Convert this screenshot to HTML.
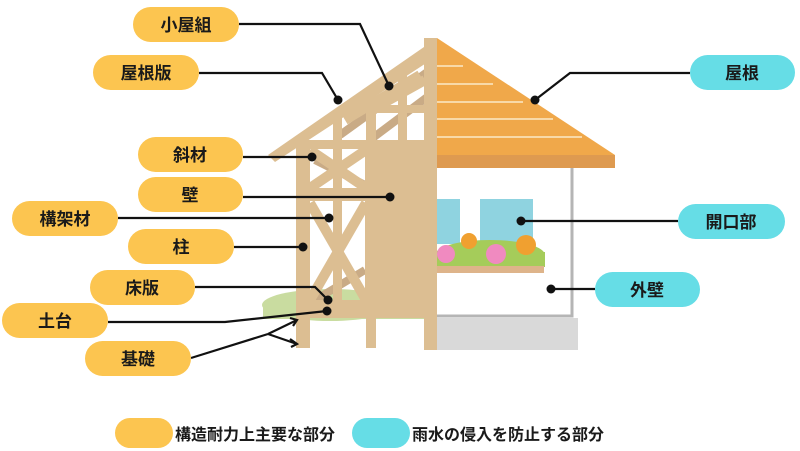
<!DOCTYPE html>
<html><head><meta charset="utf-8"><style>
html,body{margin:0;padding:0;background:#fff;}
svg{display:block;}
text{font-family:"Liberation Sans","Noto Sans CJK JP",sans-serif;font-weight:bold;fill:#1a1a1a;}
</style></head><body>
<svg width="800" height="451" viewBox="0 0 800 451" xmlns="http://www.w3.org/2000/svg">
<ellipse cx="330" cy="305" rx="68" ry="16" fill="#c9dca0"/>
<rect x="263" y="305" width="174" height="14" fill="#c9dca0"/>
<rect x="437" y="318" width="141" height="32" fill="#d9d9d9"/>
<path d="M437 316 H572 V168" fill="none" stroke="#b5b5b5" stroke-width="3"/>
<rect x="437" y="199" width="23" height="45" fill="#8fd3e0"/>
<rect x="480" y="199" width="53" height="45" fill="#8fd3e0"/>
<ellipse cx="490" cy="255" rx="55" ry="15" fill="#a5cc5a"/>
<rect x="437" y="252" width="108" height="15" fill="#a5cc5a"/>
<circle cx="446" cy="254" r="9" fill="#f08ac0"/>
<circle cx="496" cy="254" r="10" fill="#f08ac0"/>
<circle cx="469" cy="241" r="8" fill="#f0a030"/>
<circle cx="526" cy="245" r="10" fill="#f0a030"/>
<rect x="437" y="266" width="107" height="7" fill="#deb48a"/>
<polygon points="437,38 615,155 437,155" fill="#f0a84a"/>
<rect x="437" y="155" width="178" height="13" fill="#de9a50"/>
<g stroke="#f8d9a8" stroke-width="2">
<line x1="437" y1="66" x2="463" y2="66"/><line x1="437" y1="84" x2="493" y2="84"/>
<line x1="437" y1="102" x2="523" y2="102"/><line x1="437" y1="119" x2="553" y2="119"/>
<line x1="437" y1="137" x2="582" y2="137"/></g>
<g stroke="#c9ab86" stroke-width="8">
<line x1="340" y1="135" x2="430" y2="70"/><line x1="370" y1="140" x2="430" y2="95"/>
<line x1="315" y1="160" x2="365" y2="185"/><line x1="315" y1="300" x2="365" y2="270"/>
</g>
<g fill="#dcbe92">
<polygon points="268,155 437,38 437,56 275,162"/>
<rect x="296" y="140" width="141" height="9"/>
<rect x="296" y="140" width="14" height="208"/>
<rect x="333" y="115" width="9" height="200"/>
<rect x="366" y="90" width="10" height="258"/>
<rect x="398" y="70" width="9" height="80"/>
<rect x="424" y="38" width="13" height="312"/>
<rect x="365" y="140" width="72" height="178"/>
<rect x="345" y="105" width="92" height="8"/>
<rect x="296" y="188" width="75" height="13"/>
<rect x="296" y="300" width="141" height="18"/>
</g>
<g stroke="#dcbe92" stroke-width="10">
<line x1="310" y1="150" x2="366" y2="188"/><line x1="366" y1="150" x2="310" y2="188"/>
<line x1="310" y1="203" x2="366" y2="300"/><line x1="366" y1="203" x2="310" y2="300"/>
<line x1="345" y1="120" x2="420" y2="75"/><line x1="380" y1="105" x2="425" y2="80"/>
</g>
<g stroke="#111" stroke-width="2.2" fill="none">
<polyline points="239,24 360,24 389,86"/>
<polyline points="199,73 322,73 338,100"/>
<polyline points="243,157 312,157"/>
<polyline points="243,197 390,197"/>
<polyline points="118,218 329,218"/>
<polyline points="234,247 303,247"/>
<polyline points="195,287 315,287 328,300"/>
<polyline points="108,322 225,322 327,311"/>
<polyline points="191,358 268,334"/>
<polyline points="268,334 297,320"/><polyline points="268,334 297,344"/>
<polyline points="290,318 297,320 293,326"/><polyline points="290,339 297,344 291,347"/>
<polyline points="690,73 570,73 535,100"/>
<polyline points="678,221 521,221"/>
<polyline points="595,289 551,289"/>
</g>
<g fill="#111">
<circle cx="389" cy="86" r="4.5"/><circle cx="338" cy="100" r="4.5"/><circle cx="312" cy="157" r="4.5"/>
<circle cx="390" cy="197" r="4.5"/><circle cx="329" cy="218" r="4.5"/><circle cx="303" cy="247" r="4.5"/>
<circle cx="328" cy="300" r="4.5"/><circle cx="327" cy="311" r="4.5"/><circle cx="535" cy="100" r="4.5"/>
<circle cx="521" cy="221" r="4.5"/><circle cx="551" cy="289" r="4.5"/>
</g>
<g fill="#fcc550">
<rect x="133" y="7" width="106" height="35" rx="17.5"/>
<rect x="93" y="55" width="106" height="35" rx="17.5"/>
<rect x="138" y="137" width="105" height="35" rx="17.5"/>
<rect x="138" y="177" width="105" height="35" rx="17.5"/>
<rect x="12" y="201" width="106" height="35" rx="17.5"/>
<rect x="128" y="229" width="106" height="35" rx="17.5"/>
<rect x="90" y="270" width="105" height="35" rx="17.5"/>
<rect x="2" y="303" width="106" height="35" rx="17.5"/>
<rect x="85" y="341" width="106" height="35" rx="17.5"/>
<rect x="115" y="418" width="58" height="30" rx="15"/>
</g>
<g fill="#66dde6">
<rect x="690" y="55" width="105" height="35" rx="17.5"/>
<rect x="678" y="204" width="107" height="35" rx="17.5"/>
<rect x="595" y="272" width="105" height="35" rx="17.5"/>
<rect x="352" y="418" width="58" height="30" rx="15"/>
</g>
<g font-size="17" text-anchor="middle">
<text x="186" y="31">小屋組</text>
<text x="146" y="79">屋根版</text>
<text x="190" y="161">斜材</text>
<text x="190" y="201">壁</text>
<text x="65" y="225">構架材</text>
<text x="181" y="253">柱</text>
<text x="142" y="294">床版</text>
<text x="55" y="327">土台</text>
<text x="138" y="365">基礎</text>
<text x="742" y="79">屋根</text>
<text x="731" y="228">開口部</text>
<text x="647" y="296">外壁</text>
</g>
<g font-size="16">
<text x="175" y="440">構造耐力上主要な部分</text>
<text x="412" y="440">雨水の侵入を防止する部分</text>
</g>
</svg>
</body></html>
